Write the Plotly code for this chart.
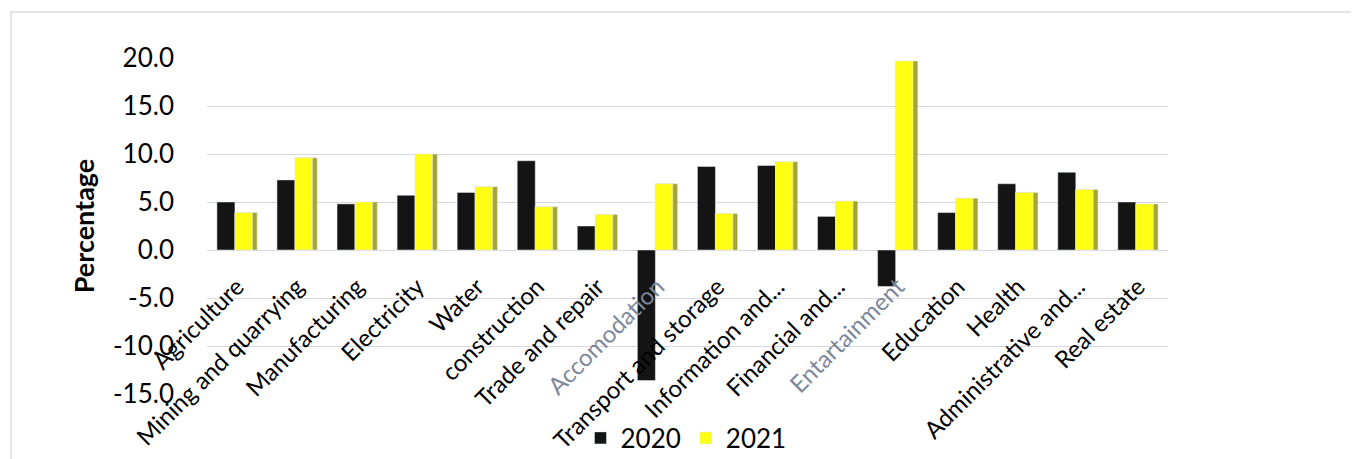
import plotly.graph_objects as go

categories = ["Agriculture", "Mining and quarrying", "Manufacturing", "Electricity", "Water",
              "construction", "Trade and repair", "Accomodation", "Transport and storage",
              "Information and...", "Financial and...", "Entartainment", "Education", "Health",
              "Administrative and...", "Real estate"]
values_2020 = [5.0, 7.3, 4.8, 5.7, 6.0, 9.3, 2.5, -13.6, 8.7, 8.8, 3.5, -3.8, 3.9, 6.9, 8.1, 5.0]
values_2021 = [3.9, 9.6, 5.0, 10.0, 6.6, 4.5, 3.7, 6.9, 3.8, 9.2, 5.1, 19.7, 5.4, 6.0, 6.3, 4.8]
y_ticks = [-15.0, -10.0, -5.0, 0.0, 5.0, 10.0, 15.0, 20.0]
faded_labels = ["Accomodation", "Entartainment"]

FONT = "Lato"
W, H = 1353, 459
L, R, T, B = 207, 185, 58, 65
ymin, ymax = -15.0, 20.0

ticktext_x = [f'<span style="color:#7d8799">{c}</span>' if c in faded_labels else c for c in categories]

fig = go.Figure()
fig.add_trace(go.Bar(x=categories, y=values_2020, name="2020", marker_color="#141414",
                     width=0.30, offset=-0.335, showlegend=True))
fig.add_trace(go.Bar(x=categories, y=values_2021, name="2021 side", marker_color="#a4a43c",
                     width=0.37, offset=-0.035, showlegend=False, hoverinfo="skip"))
fig.add_trace(go.Bar(x=categories, y=values_2021, name="2021", marker_color="#ffff14",
                     width=0.29, offset=-0.035, showlegend=True))

zero_pos = (0 - ymin) / (ymax - ymin)

fig.update_layout(
    width=W, height=H,
    margin=dict(l=L, r=R, t=T, b=B, pad=0, autoexpand=False),
    barmode="overlay",
    plot_bgcolor="white", paper_bgcolor="white",
    font=dict(family=FONT, color="black", size=22),
    xaxis=dict(
        type="category", range=[-0.5, len(categories) - 0.5],
        anchor="free", position=zero_pos, automargin=False,
        tickmode="array", tickvals=categories, ticktext=ticktext_x,
        tickangle=-45, ticks="", showline=False, showgrid=False, zeroline=False,
        tickfont=dict(family=FONT, size=24, color="black"),
        ticklabelstandoff=17,
    ),
    yaxis=dict(
        range=[ymin, ymax], tickmode="array", tickvals=y_ticks, automargin=False,
        ticktext=[f"{v:.1f}" for v in y_ticks],
        showgrid=True, gridcolor="#d6d8e2", gridwidth=1,
        zeroline=False, showline=False, ticks="",
        tickfont=dict(family=FONT, size=26, color="black"),
        ticklabelstandoff=32,
        title=dict(text="<b>Percentage</b>", font=dict(family=FONT, size=27, color="black"), standoff=10),
    ),
    legend=dict(orientation="h", xref="container", yref="container",
                x=686 / W, xanchor="center", y=1 - 438 / H, yanchor="middle",
                font=dict(family=FONT, size=26, color="black"),
                itemwidth=30, traceorder="normal", bgcolor="rgba(0,0,0,0)"),
    showlegend=True,
)

pw, ph = W - L - R, H - T - B
fig.add_shape(type="line", xref="paper", yref="paper",
              x0=(10 - L) / pw, x1=(W - 2 - L) / pw, y0=(H - B - 12) / ph, y1=(H - B - 12) / ph,
              line=dict(color="#c9cad4", width=1))
fig.add_shape(type="line", xref="paper", yref="paper",
              x0=(11 - L) / pw, x1=(11 - L) / pw, y0=(H - B - 12) / ph, y1=(H - B - 470) / ph,
              line=dict(color="#c9cad4", width=1))

fig.write_html("out.html")
